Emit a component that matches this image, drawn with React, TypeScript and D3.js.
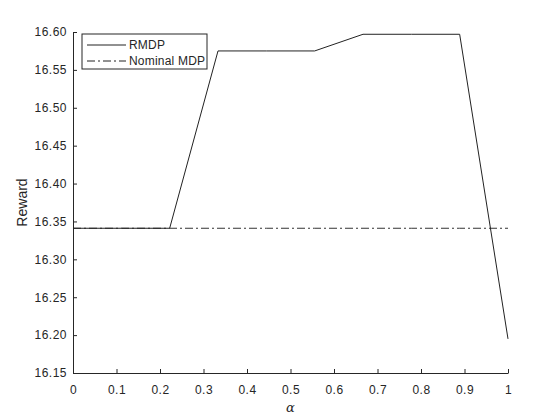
import { useRef, useEffect } from 'react';
import * as d3 from 'd3';

// alpha = linspace(0, 1, 10)
const alphas = [0, 1 / 9, 2 / 9, 3 / 9, 4 / 9, 5 / 9, 6 / 9, 7 / 9, 8 / 9, 1];
const rmdp = [16.341, 16.341, 16.341, 16.575, 16.575, 16.575, 16.597, 16.597, 16.597, 16.195];
const nominal = [16.341, 16.341, 16.341, 16.341, 16.341, 16.341, 16.341, 16.341, 16.341, 16.341];
const xTicks = [0, 0.1, 0.2, 0.3, 0.4, 0.5, 0.6, 0.7, 0.8, 0.9, 1];
const yTicks = [16.15, 16.2, 16.25, 16.3, 16.35, 16.4, 16.45, 16.5, 16.55, 16.6];
const seriesNames = ['RMDP', 'Nominal MDP'];

export default function App() {
  const svgRef = useRef<SVGSVGElement>(null);

  useEffect(() => {
    if (!svgRef.current) return;
    const width = 560;
    const height = 420;
    const margin = { top: 32, right: 52, bottom: 47, left: 73 };
    const font = '"Liberation Sans", Arial, Helvetica, sans-serif';
    const axisColor = '#262626';

    const svg = d3.select(svgRef.current);
    svg.selectAll('*').remove();
    svg.attr('width', width).attr('height', height);

    svg.append('rect').attr('width', width).attr('height', height).attr('fill', '#fff');

    const x = d3.scaleLinear().domain([0, 1]).range([margin.left, width - margin.right]);
    const y = d3.scaleLinear().domain([16.15, 16.6]).range([height - margin.bottom, margin.top]);

    // Axes (box off, ticks inward)
    const xAxis = svg.append('g')
      .attr('transform', `translate(0,${height - margin.bottom})`)
      .call(d3.axisBottom(x).tickValues(xTicks).tickSizeInner(-4).tickSizeOuter(0).tickPadding(12)
        .tickFormat(d => d3.format('')(+d)));
    const yAxis = svg.append('g')
      .attr('transform', `translate(${margin.left},0)`)
      .call(d3.axisLeft(y).tickValues(yTicks).tickSizeInner(-4).tickSizeOuter(0).tickPadding(6)
        .tickFormat(d => d3.format('.2f')(+d)));

    [xAxis, yAxis].forEach(g => {
      g.select('.domain').attr('stroke', axisColor).attr('stroke-width', 1);
      g.selectAll('.tick line').attr('stroke', axisColor);
      g.selectAll('.tick text')
        .attr('fill', axisColor)
        .attr('font-family', font)
        .attr('font-size', '12px')
        .attr('letter-spacing', '0.5px');
    });

    const line = d3.line<number>()
      .x((_, i) => x(alphas[i]))
      .y(d => y(d));

    svg.append('path')
      .datum(nominal)
      .attr('d', line)
      .attr('fill', 'none')
      .attr('stroke', '#333')
      .attr('stroke-width', 1)
      .attr('stroke-dasharray', '8,3,2,3');

    svg.append('path')
      .datum(rmdp)
      .attr('d', line)
      .attr('fill', 'none')
      .attr('stroke', '#222')
      .attr('stroke-width', 1);

    // Axis labels
    svg.append('text')
      .attr('x', (margin.left + width - margin.right) / 2)
      .attr('y', height - 8)
      .attr('text-anchor', 'middle')
      .attr('font-family', '"DejaVu Serif", "Liberation Serif", serif')
      .attr('font-style', 'italic')
      .attr('font-size', '13px')
      .attr('fill', axisColor)
      .text('α');

    svg.append('text')
      .attr('transform', `translate(27,${(margin.top + height - margin.bottom) / 2}) rotate(-90)`)
      .attr('text-anchor', 'middle')
      .attr('font-family', font)
      .attr('font-size', '14px')
      .attr('fill', axisColor)
      .text('Reward');

    // Legend
    const legend = svg.append('g').attr('transform', 'translate(82,34)');
    legend.append('rect')
      .attr('width', 125).attr('height', 35)
      .attr('fill', '#fff').attr('stroke', axisColor).attr('stroke-width', 1);
    seriesNames.forEach((name, i) => {
      const ly = 11 + i * 16;
      legend.append('line')
        .attr('x1', 5).attr('x2', 44).attr('y1', ly).attr('y2', ly)
        .attr('stroke', '#222').attr('stroke-width', 1)
        .attr('stroke-dasharray', i === 1 ? '8,3,2,3' : null);
      legend.append('text')
        .attr('x', 47).attr('y', ly).attr('dy', '0.35em')
        .attr('font-family', font).attr('font-size', '12px')
        .attr('letter-spacing', '0.2px')
        .attr('fill', axisColor)
        .text(name);
    });
  }, []);

  return <svg ref={svgRef} style={{ display: 'block', margin: -8 }} />;
}
